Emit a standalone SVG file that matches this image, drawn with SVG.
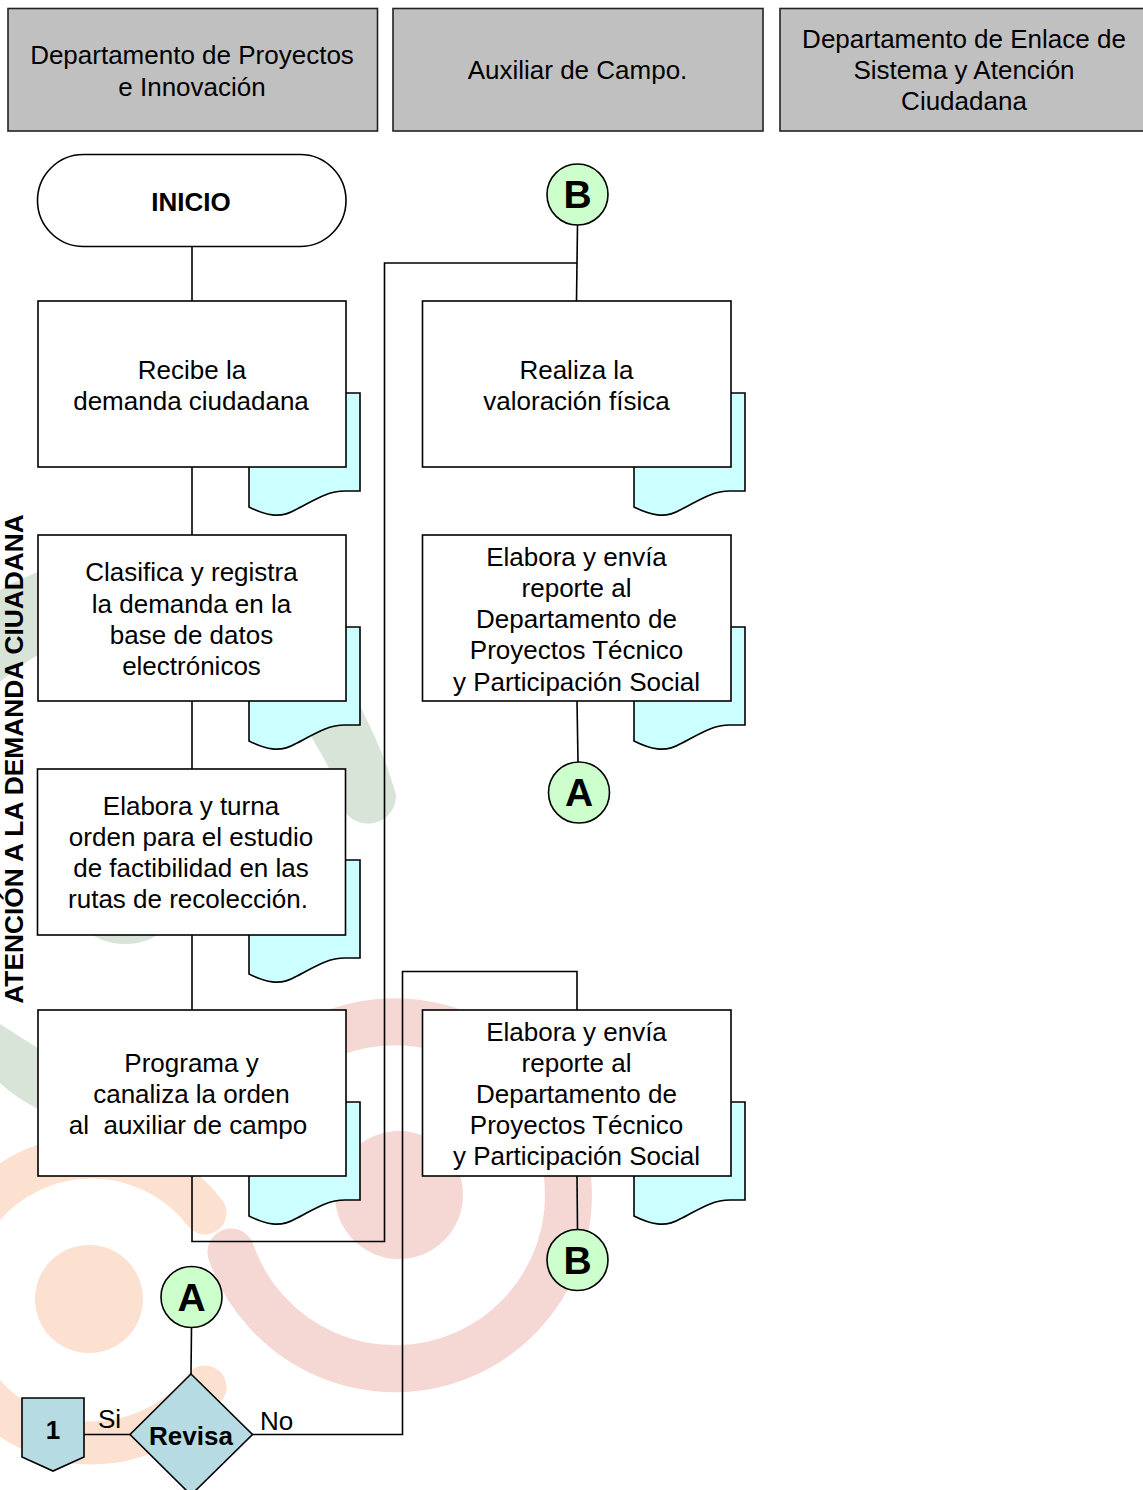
<svg xmlns="http://www.w3.org/2000/svg" width="1143" height="1490" viewBox="0 0 1143 1490">
<style>
text{font-family:"Liberation Sans",Arial,sans-serif;font-size:26px;fill:#000;text-anchor:middle}
.b{font-weight:bold}
.big{font-weight:bold;font-size:39px}
.hd{fill:#c0c0c0;stroke:#222;stroke-width:1.6}
.box{fill:#fff;stroke:#000;stroke-width:1.6}
.doc{fill:#ccffff;stroke:#000;stroke-width:1.6}
.cir{fill:#ccffcc;stroke:#000;stroke-width:1.6}
.dec{fill:#b7dbe3;stroke:#000;stroke-width:1.6}
.con{fill:none;stroke:#000;stroke-width:1.6}
</style>
<defs>
<path id="docshape" d="M249 393H360V491H345C325 491 310 503 295 510C280 519 265 515 249 507Z"/>
</defs>
<rect width="1143" height="1490" fill="#fff"/>
<g id="watermark">
<path fill="#d8e4d8" d="M0 590Q60 555 150 550Q300 550 362 710Q385 755 396 795A28 28 0 0 1 346 813Q335 775 316 745Q250 620 150 620Q60 630 0 682Z"/>
<path fill="#d8e4d8" d="M0 1024L36 1047L100 1090L60 1122L36 1108Q15 1097 0 1083Z"/>
<circle fill="#d8e4d8" cx="125" cy="880" r="64"/>
<path fill="none" stroke="#fce0d0" stroke-width="43" stroke-linecap="round" d="M205 1213A143 143 0 1 0 205 1387"/>
<circle fill="#fce0d0" cx="89" cy="1299" r="54"/>
<path fill="none" stroke="#f5d8d3" stroke-width="47" stroke-linecap="round" d="M231 1252A173.500 173.500 0 1 0 300 1050"/>
<circle fill="#f5d8d3" cx="399" cy="1195" r="64"/>
</g>
<g id="connectors" class="con">
<path class="con" d="M192 246V301"/>
<path class="con" d="M192 467V535"/>
<path class="con" d="M192 701V769"/>
<path class="con" d="M192 935V1010"/>
<path class="con" d="M192 1176V1241.500H384.500V263H577"/>
<path class="con" d="M577.500 225L576.500 301"/>
<path class="con" d="M577 701L578 762"/>
<path class="con" d="M577 1010V971.500H402.500V1434.500H252"/>
<path class="con" d="M577 1176L577.500 1230"/>
<path class="con" d="M191.500 1328L191 1374"/>
<path class="con" d="M84 1434.500H130"/>
</g>
<g id="header-proyectos"><rect class="hd" x="8" y="8.500" width="369.500" height="122.500"/><text x="192" y="64">Departamento de Proyectos</text><text x="192" y="95.500">e Innovación</text></g>
<g id="header-auxiliar"><rect class="hd" x="393" y="8.500" width="370" height="122.500"/><text x="577.500" y="79">Auxiliar de Campo.</text></g>
<g id="header-enlace"><rect class="hd" x="780" y="8.500" width="370" height="122.500"/><text x="964" y="48">Departamento de Enlace de</text><text x="964" y="79">Sistema y Atención</text><text x="964" y="110">Ciudadana</text></g>
<g id="inicio"><rect class="box" x="37.500" y="154.500" width="308.500" height="92" rx="46" ry="46"/><text class="b" x="191" y="211">INICIO</text></g>
<g id="recibe"><use href="#docshape" class="doc"/><rect class="box" x="38" y="301" width="308" height="166"/><text x="192" y="379">Recibe la</text><text x="191" y="410">demanda ciudadana</text></g>
<g id="clasifica"><use href="#docshape" class="doc" y="234"/><rect class="box" x="38" y="535" width="308" height="166"/><text x="191.500" y="581">Clasifica y registra</text><text x="191.500" y="613">la demanda en la</text><text x="191.500" y="644">base de datos</text><text x="191.500" y="675">electrónicos</text></g>
<g id="elabora-turna"><use href="#docshape" class="doc" y="467"/><rect class="box" x="37.500" y="769" width="308" height="166"/><text x="191" y="815">Elabora y turna</text><text x="191" y="846">orden para el estudio</text><text x="191" y="877">de factibilidad en las</text><text x="188" y="908">rutas de recolección.</text></g>
<g id="programa"><use href="#docshape" class="doc" y="709"/><rect class="box" x="38" y="1010" width="308" height="166"/><text x="191.500" y="1072">Programa y</text><text x="191.500" y="1103">canaliza la orden</text><text x="188" y="1134" xml:space="preserve">al  auxiliar de campo</text></g>
<g id="realiza"><use href="#docshape" class="doc" x="385"/><rect class="box" x="422.500" y="301" width="308.500" height="166"/><text x="576.500" y="379">Realiza la</text><text x="576.500" y="410">valoración física</text></g>
<g id="elabora-envia-1"><use href="#docshape" class="doc" x="385" y="234"/><rect class="box" x="422.500" y="535" width="308.500" height="166"/><text x="576.500" y="566">Elabora y envía</text><text x="576.500" y="597">reporte al</text><text x="576.500" y="628">Departamento de</text><text x="576.500" y="659">Proyectos Técnico</text><text x="576.500" y="691">y Participación Social</text></g>
<g id="elabora-envia-2"><use href="#docshape" class="doc" x="385" y="709"/><rect class="box" x="422.500" y="1010" width="308.500" height="166"/><text x="576.500" y="1041">Elabora y envía</text><text x="576.500" y="1072">reporte al</text><text x="576.500" y="1103">Departamento de</text><text x="576.500" y="1134">Proyectos Técnico</text><text x="576.500" y="1165">y Participación Social</text></g>
<g id="conector-b-top"><circle class="cir" cx="577.500" cy="194.500" r="30.500"/><text class="big" x="577.500" y="208">B</text></g>
<g id="conector-a-top"><circle class="cir" cx="579" cy="792.500" r="30.500"/><text class="big" x="579" y="806">A</text></g>
<g id="conector-b-bottom"><circle class="cir" cx="577.500" cy="1260" r="30.500"/><text class="big" x="577.500" y="1273.500">B</text></g>
<g id="conector-a-bottom"><circle class="cir" cx="191.500" cy="1297" r="30.500"/><text class="big" x="191.500" y="1311">A</text></g>
<g id="revisa"><path class="dec" d="M191 1374L252.500 1434.500L191 1495L130 1434.500Z"/><text class="b" x="191" y="1445">Revisa</text></g>
<g id="pagina-1"><path class="dec" d="M22 1398H84V1457L53 1471L22 1457Z"/><text class="b" x="53" y="1439">1</text></g>
<g id="labels"><text x="109.500" y="1428">Si</text><text x="276.500" y="1430">No</text></g>
<g id="lane-title"><text class="b" transform="translate(23 759) rotate(-90)" style="font-size:26.300px">ATENCIÓN A LA DEMANDA CIUADANA</text></g>
</svg>
